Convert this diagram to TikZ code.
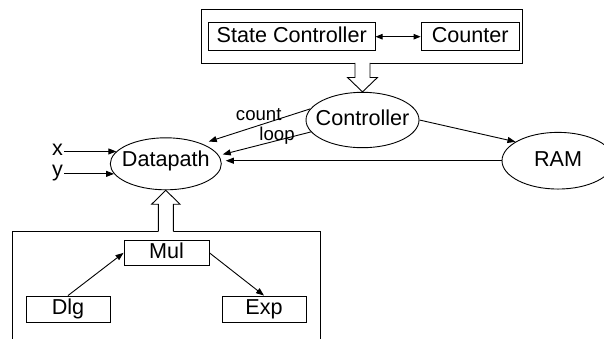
\documentclass[tikz,border=0pt]{standalone}
\usepackage{fontspec}
\setmainfont{Liberation Sans}
\usetikzlibrary{arrows.meta,shapes.geometric}
% zero-width text so the ellipse size is set only by minimum width/height
\newcommand\ovaltext[1]{\makebox[0pt]{#1}}
\begin{document}
\begin{tikzpicture}[x=1pt,y=-1pt,line width=0.9pt,
  big/.style={font=\fontsize{21.6}{26}\selectfont,text height=15pt,text depth=3.5pt},
  box/.style={big,draw,rectangle,inner sep=0pt},
  oval/.style={big,draw,ellipse,inner sep=0pt},
  group/.style={draw,rectangle,inner sep=0pt},
  lab/.style={font=\fontsize{21.6}{26}\selectfont,inner sep=1pt},
  sig/.style={font=\fontsize{18.6}{22}\selectfont,inner sep=0pt},
  arr/.style={-{Triangle[length=8pt,width=6pt]}},
  dblarr/.style={{Triangle[length=7pt,width=5.5pt]}-{Triangle[length=7pt,width=5.5pt]}},
]
\useasboundingbox (0,0) rectangle (604,338);
\clip (0,0) rectangle (604,338);

% control unit group
\node[group,minimum width=321.7pt,minimum height=54.3pt] (ctlgrp) at (361.85,36.15) {};
\node[box,minimum width=166.7pt,minimum height=28pt] (sc) at (291.7,36.7) {State Controller};
\node[box,minimum width=98.3pt,minimum height=28pt] (cnt) at (470.2,36.7) {Counter};
\draw[dblarr] (sc.east) -- (cnt.west);

% main blocks
\node[oval,minimum width=113pt,minimum height=55.4pt] (ctrl) at (362.5,120) {\ovaltext{Controller}};
\node[oval,minimum width=111pt,minimum height=52pt,text depth=9pt] (dp) at (165.8,163.8) {\ovaltext{Datapath}};
\node[oval,minimum width=112pt,minimum height=56.7pt] (ram) at (558,160.7) {\ovaltext{RAM}};

% arithmetic unit group
\node[group,minimum width=307.7pt,minimum height=129pt] (arith) at (166.15,295.5) {};
\node[box,minimum width=85pt,minimum height=25.7pt] (mul) at (166.5,252.85) {Mul};
\node[box,minimum width=84pt,minimum height=26pt] (dlg) at (68,309) {Dlg};
\node[box,minimum width=84pt,minimum height=26pt] (exp) at (264,309) {Exp};
\draw[arr] (dlg.north) -- (mul.west);
\draw[arr] (mul.east) -- (exp.north);

% hollow arrow: control group -> Controller
\begin{scope}[shift={(ctrl.north)}]
  \fill[white] (-7.5,-30) -- (-7.5,-14.4) -- (-15,-14.4) -- (0,0) -- (15,-14.4) -- (7.5,-14.4) -- (7.5,-30) -- cycle;
  \draw[line join=miter] (-7.5,-29) -- (-7.5,-14.4) -- (-15,-14.4) -- (0,0) -- (15,-14.4) -- (7.5,-14.4) -- (7.5,-29);
\end{scope}

% hollow arrow: arithmetic group -> Datapath
\begin{scope}[shift={(dp.south)}]
  \fill[white] (-7.5,42.5) -- (-7.5,14) -- (-14.2,14) -- (0,0) -- (14.2,14) -- (7.5,14) -- (7.5,42.5) -- cycle;
  \draw[line join=miter] (-7.5,41.2) -- (-7.5,14) -- (-14.2,14) -- (0,0) -- (14.2,14) -- (7.5,14) -- (7.5,41.2);
\end{scope}

% inputs
\node[lab,anchor=base east] (xl) at (64.3,155.5) {x};
\node[lab,anchor=base east] (yl) at (64.3,176.5) {y};
\draw[arr] (xl.east |- dp.166) -- (dp.166);
\draw[arr] (yl.east |- dp.191) -- (dp.191);

% control signals
\draw[arr,shorten >=7pt] (ctrl.168.8) -- (dp.29);
\draw[arr,shorten >=4pt] (ctrl.193) -- (dp.9);
\node[sig,anchor=base west] (cntlab) at (235.5,120.7) {count};
\node[sig,anchor=base west] (looplab) at (259,140) {loop};

% memory connections
\draw[arr] (ctrl.east) -- (ram.156.8);
\draw[arr,shorten >=4pt] (ram.west) -- (ram.west -| dp.east);
\end{tikzpicture}
\end{document}
